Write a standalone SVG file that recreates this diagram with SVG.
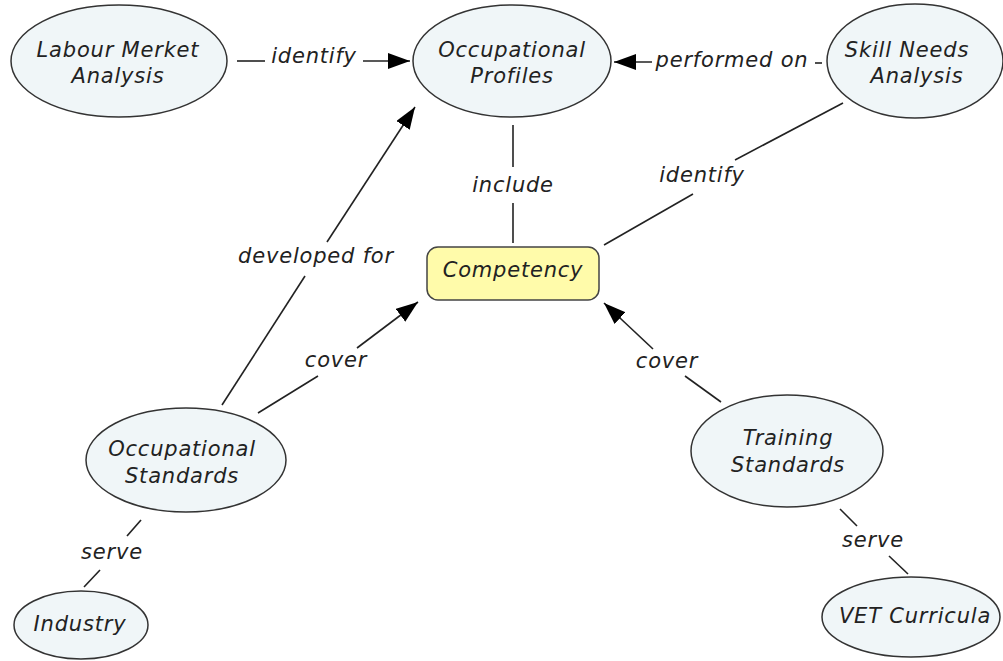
<svg xmlns="http://www.w3.org/2000/svg" width="1003" height="661" viewBox="0 0 1003 661">
<style>
.node{fill:#f0f6f8;stroke:#333;stroke-width:1.5}
.comp{fill:#fffbaa;stroke:#444;stroke-width:1.5}
text{font-family:"DejaVu Sans","Verdana",sans-serif;font-style:italic;font-size:21px;letter-spacing:0.8px;fill:#222;text-anchor:middle}
.ln{stroke:#222;stroke-width:1.6;fill:none}
</style>
<defs>
<marker id="ah" markerUnits="userSpaceOnUse" markerWidth="24" markerHeight="18" refX="22" refY="8" orient="auto">
<path d="M0,0 L22,8 L0,16 z" fill="#000"/>
</marker>
</defs>
<rect width="1003" height="661" fill="#fff"/>
<g id="connectors">
<line class="ln" x1="237" y1="61" x2="265" y2="61"/>
<line class="ln" x1="363" y1="61" x2="410" y2="61" marker-end="url(#ah)"/>
<text x="314" y="63">identify</text>
<line class="ln" x1="652" y1="62" x2="614" y2="62" marker-end="url(#ah)"/>
<line class="ln" x1="815" y1="63" x2="822" y2="63"/>
<text x="732" y="67">performed on</text>
<line class="ln" x1="513" y1="125" x2="513" y2="167"/>
<line class="ln" x1="513" y1="203" x2="513" y2="243"/>
<text x="513" y="192">include</text>
<line class="ln" x1="843" y1="103" x2="735" y2="160"/>
<line class="ln" x1="693" y1="194" x2="604" y2="245"/>
<text x="702" y="182">identify</text>
<line class="ln" x1="222" y1="405" x2="305" y2="276"/>
<line class="ln" x1="327" y1="242" x2="415" y2="107" marker-end="url(#ah)"/>
<text x="316" y="263">developed for</text>
<line class="ln" x1="258" y1="413" x2="318" y2="376"/>
<line class="ln" x1="357" y1="348" x2="418" y2="302" marker-end="url(#ah)"/>
<text x="336" y="367">cover</text>
<line class="ln" x1="721" y1="402" x2="685" y2="376"/>
<line class="ln" x1="653" y1="349" x2="604" y2="303" marker-end="url(#ah)"/>
<text x="667" y="368">cover</text>
<line class="ln" x1="141" y1="520" x2="127" y2="536"/>
<line class="ln" x1="100" y1="570" x2="84" y2="587"/>
<text x="112" y="559">serve</text>
<line class="ln" x1="840" y1="509" x2="857" y2="526"/>
<line class="ln" x1="889" y1="556" x2="908" y2="574"/>
<text x="873" y="547">serve</text>
</g>
<g id="labour">
<ellipse class="node" cx="119" cy="61" rx="108" ry="56"/>
<text x="118" y="57">Labour Merket</text>
<text x="118" y="83">Analysis</text>
</g>
<g id="profiles">
<ellipse class="node" cx="512" cy="61" rx="99" ry="56"/>
<text x="512" y="57">Occupational</text>
<text x="512" y="83">Profiles</text>
</g>
<g id="skill">
<ellipse class="node" cx="915" cy="61" rx="88" ry="57"/>
<text x="907" y="57">Skill Needs</text>
<text x="917" y="83">Analysis</text>
</g>
<g id="competency">
<rect class="comp" x="427" y="247" width="172" height="53" rx="11"/>
<text x="513" y="277">Competency</text>
</g>
<g id="occstandards">
<ellipse class="node" cx="186" cy="460" rx="100" ry="52"/>
<text x="182" y="456">Occupational</text>
<text x="182" y="483">Standards</text>
</g>
<g id="training">
<ellipse class="node" cx="787" cy="451" rx="96" ry="56"/>
<text x="788" y="445">Training</text>
<text x="788" y="472">Standards</text>
</g>
<g id="industry">
<ellipse class="node" cx="81" cy="625" rx="67" ry="34"/>
<text x="80" y="631">Industry</text>
</g>
<g id="vet">
<ellipse class="node" cx="911" cy="617" rx="89" ry="40"/>
<text x="915" y="623">VET Curricula</text>
</g>
</svg>
